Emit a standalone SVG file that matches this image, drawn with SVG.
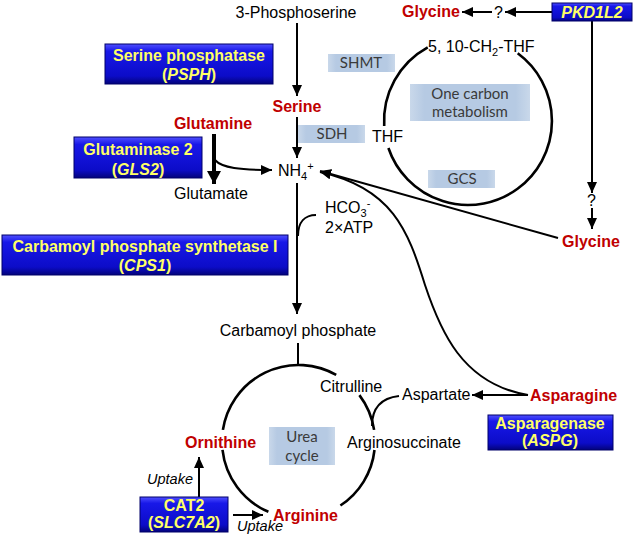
<svg xmlns="http://www.w3.org/2000/svg" width="633" height="539" viewBox="0 0 633 539">
<defs>
<linearGradient id="bx" x1="0" y1="0" x2="0" y2="1">
<stop offset="0" stop-color="#5050ff"/>
<stop offset="0.18" stop-color="#1818e8"/>
<stop offset="0.8" stop-color="#0c0cc8"/>
<stop offset="1" stop-color="#03037a"/>
</linearGradient>
<linearGradient id="lb" x1="0" y1="0" x2="1" y2="0">
<stop offset="0" stop-color="#c9d8ea"/>
<stop offset="0.12" stop-color="#b6cae3"/>
<stop offset="0.88" stop-color="#b6cae3"/>
<stop offset="1" stop-color="#c9d8ea"/>
</linearGradient>
<marker id="ah" markerUnits="userSpaceOnUse" markerWidth="12" markerHeight="10" refX="11" refY="5" orient="auto">
<path d="M0,0 L11,5 L0,10 Z" fill="#000"/>
</marker>
<marker id="ahb" markerUnits="userSpaceOnUse" markerWidth="14" markerHeight="14" refX="13" refY="7" orient="auto">
<path d="M0,0 L13,7 L0,14 Z" fill="#000"/>
</marker>
</defs>
<style>
.t{font-family:"Liberation Sans",Arial,sans-serif;font-size:16px;fill:#000}
.r{font-family:"Liberation Sans",Arial,sans-serif;font-size:16px;font-weight:bold;fill:#c00000}
.y{font-family:"Liberation Sans",Arial,sans-serif;font-size:16px;font-weight:bold;fill:#ffff66;text-anchor:middle}
.c{font-family:Lato,"Open Sans",sans-serif;font-size:15px;fill:#3a3a3a;text-anchor:middle}
.u{font-family:"Liberation Sans",Arial,sans-serif;font-size:14.5px;font-style:italic;fill:#000}
.box{fill:url(#bx);stroke:#00006a;stroke-width:1}
.lbx{fill:url(#lb)}
.ln{fill:none;stroke:#000;stroke-width:2}
.cir{fill:none;stroke:#000;stroke-width:2.6}
.m{text-anchor:middle}
</style>
<rect width="633" height="539" fill="#fff"/>

<g id="connectors">
<line class="ln" x1="297" y1="23" x2="297" y2="96" marker-end="url(#ah)"/>
<line class="ln" x1="297" y1="117" x2="297" y2="158" marker-end="url(#ah)"/>
<line x1="214" y1="134" x2="214" y2="184" stroke="#000" stroke-width="4" marker-end="url(#ahb)"/>
<path class="ln" d="M215 160 C222 168 240 170 272 170" marker-end="url(#ah)"/>
<line class="ln" x1="297" y1="183" x2="297" y2="314" marker-end="url(#ah)"/>
<path class="ln" d="M316 215 C305 215 298 222 298 236"/>
<line class="ln" x1="558" y1="238" x2="320" y2="171" marker-end="url(#ah)"/>
<path class="ln" d="M528 395 C462 384 440 330 425 285 C408 230 392 188 320 172" marker-end="url(#ah)"/>
<line class="ln" x1="552" y1="12" x2="505" y2="12" marker-end="url(#ah)"/>
<line class="ln" x1="492" y1="12" x2="462" y2="12" marker-end="url(#ah)"/>
<line class="ln" x1="592" y1="21" x2="592" y2="193" marker-end="url(#ah)"/>
<line class="ln" x1="592" y1="208" x2="592" y2="229" marker-end="url(#ah)"/>
<line class="ln" x1="528" y1="395" x2="472" y2="395" marker-end="url(#ah)"/>
<path class="ln" d="M399 396 C381 398 372 408 372 426"/>
<line class="ln" x1="298" y1="343" x2="298" y2="366"/>
<line class="ln" x1="199" y1="497" x2="199" y2="457" marker-end="url(#ah)"/>
<line class="ln" x1="233" y1="515" x2="263" y2="515" marker-end="url(#ah)"/>
<!-- one carbon circle -->
<path class="cir" d="M517.7 53.3 A84 84 0 1 1 388.4 148"/>
<path class="cir" d="M384.2 126 A84 84 0 0 1 427.7 47.3"/>
<!-- urea cycle -->
<path class="cir" d="M222.9 429.9 A76.5 76.5 0 0 1 336.2 374.9"/>
<path class="cir" d="M359.4 395.1 A76.5 76.5 0 0 1 374.1 429.9"/>
<path class="cir" d="M374.5 450 A76.5 76.5 0 0 1 340.4 505.5"/>
<path class="cir" d="M268.4 511.8 A76.5 76.5 0 0 1 222.5 449.9"/>
</g>

<g id="phosphoserine"><text class="t m" x="296" y="18">3-Phosphoserine</text></g>
<g id="serine"><text class="r m" x="297" y="112">Serine</text></g>
<g id="glutamine"><text class="r m" x="213" y="129">Glutamine</text></g>
<g id="glutamate"><text class="t m" x="211" y="199">Glutamate</text></g>
<g id="nh4"><text class="t" x="278" y="176">NH<tspan font-size="11" dy="4">4</tspan><tspan font-size="11" dy="-10">+</tspan></text></g>
<g id="hco3"><text class="t" x="325" y="213">HCO<tspan font-size="11" dy="4">3</tspan><tspan font-size="11" dy="-10">-</tspan></text><text class="t" x="325" y="233">2×ATP</text></g>
<g id="glycine-top"><text class="r" x="402" y="17">Glycine</text><text class="t" x="494" y="18">?</text></g>
<g id="glycine-right"><text class="r" x="562" y="247">Glycine</text><text class="t" x="587" y="206">?</text></g>
<g id="ch2thf"><text class="t" x="428" y="52">5, 10-CH<tspan font-size="11" dy="4">2</tspan><tspan dy="-4">-THF</tspan></text></g>
<g id="thf"><text class="t" x="372" y="142">THF</text></g>
<g id="shmt"><rect class="lbx" x="328" y="54" width="67" height="18"/><text class="c" x="361" y="68">SHMT</text></g>
<g id="sdh"><rect class="lbx" x="298" y="125" width="67" height="18"/><text class="c" x="332" y="139">SDH</text></g>
<g id="gcs"><rect class="lbx" x="428" y="170" width="67" height="18"/><text class="c" x="462" y="184">GCS</text></g>
<g id="onecarbon"><rect class="lbx" x="410" y="84" width="120" height="37"/><text class="c" x="470" y="99">One carbon</text><text class="c" x="470" y="117">metabolism</text></g>
<g id="carbamoyl"><text class="t m" x="298" y="336">Carbamoyl phosphate</text></g>
<g id="citrulline"><text class="t" x="320" y="392">Citrulline</text></g>
<g id="aspartate"><text class="t" x="402" y="400">Aspartate</text></g>
<g id="asparagine"><text class="r" x="530" y="401">Asparagine</text></g>
<g id="arginosuccinate"><text class="t" x="347" y="448">Arginosuccinate</text></g>
<g id="ornithine"><text class="r" x="185" y="448">Ornithine</text></g>
<g id="arginine"><text class="r" x="273" y="521">Arginine</text></g>
<g id="ureacycle"><rect class="lbx" x="269" y="427" width="66" height="38"/><text class="c" x="302" y="442">Urea</text><text class="c" x="302" y="461">cycle</text></g>
<g id="uptake"><text class="u" x="147" y="484">Uptake</text><text class="u" x="237" y="531">Uptake</text></g>

<g id="psph"><rect class="box" x="105" y="44" width="168" height="40"/><text class="y" x="189" y="61">Serine phosphatase</text><text class="y" x="189" y="80">(<tspan font-style="italic">PSPH</tspan>)</text></g>
<g id="gls2"><rect class="box" x="74" y="137" width="128" height="41"/><text class="y" x="138" y="155">Glutaminase 2</text><text class="y" x="138" y="175">(<tspan font-style="italic">GLS2</tspan>)</text></g>
<g id="cps1"><rect class="box" x="2" y="235" width="286" height="40"/><text class="y" x="145" y="252">Carbamoyl phosphate synthetase I</text><text class="y" x="145" y="271">(<tspan font-style="italic">CPS1</tspan>)</text></g>
<g id="pkd1l2"><rect class="box" x="552" y="3" width="80" height="18"/><text class="y" x="592" y="18" font-style="italic" font-size="15">PKD1L2</text></g>
<g id="aspg"><rect class="box" x="488" y="415" width="125" height="35"/><text class="y" x="550" y="429" font-size="14.5">Asparagenase</text><text class="y" x="550" y="446" font-size="14.5">(<tspan font-style="italic">ASPG</tspan>)</text></g>
<g id="cat2"><rect class="box" x="140" y="497" width="88" height="35"/><text class="y" x="184" y="511" font-size="14.5">CAT2</text><text class="y" x="184" y="528" font-size="14.5">(<tspan font-style="italic">SLC7A2</tspan>)</text></g>
</svg>
